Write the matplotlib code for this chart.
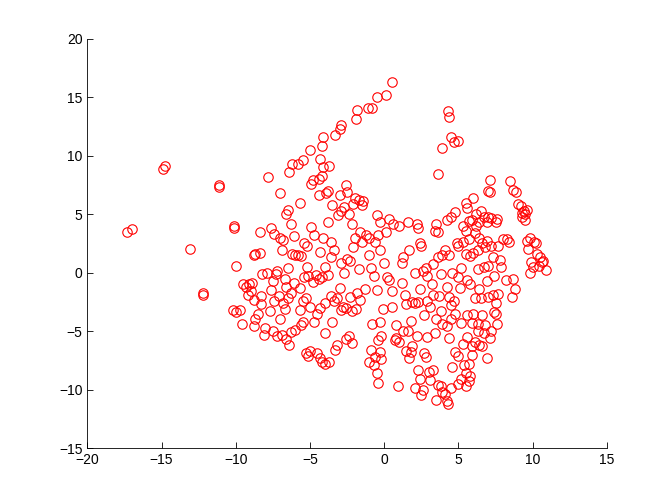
import matplotlib.pyplot as plt
import numpy as np

# scatter points, (x, y)
points = [
    (-17.3, 3.5), (-17.0, 3.7), (-14.9, 8.9), (-14.8, 9.1), (-13.1, 2.0),
    (-12.2, -1.7), (-12.2, -1.9), (-11.1, 7.3), (-11.1, 7.5),
    # -10 .. -8
    (-10.1, 3.8), (-10.1, 4.0), (-10.0, 0.6), (-10.2, -3.2), (-10.0, -3.4), (-9.7, -3.2),
    (-9.6, -4.4), (-9.5, -1.0), (-9.3, -1.2), (-9.1, -1.0), (-9.0, -1.6), (-9.2, -1.9),
    (-8.8, 1.5), (-8.7, 1.6), (-8.9, -0.9), (-8.8, -2.3), (-8.5, -3.5), (-8.8, -4.6),
    (-8.7, -4.0), (-8.4, 1.7), (-8.4, 3.5), (-8.2, -0.1), (-8.3, -2.0), (-8.0, -4.7),
    (-8.1, -5.3), (-8.3, -2.7),
    # -8 .. -6
    (-7.8, 8.2), (-7.6, 3.8), (-7.4, 3.3), (-7.3, -0.1), (-7.5, -0.7), (-7.2, 0.1),
    (-7.6, -1.5), (-7.7, -3.3), (-7.5, -5.0), (-7.2, -5.4), (-7.4, -2.4), (-7.1, -2.0),
    (-7.0, 6.8), (-7.0, 3.0), (-6.8, 2.8), (-6.9, 1.9), (-6.6, 5.0), (-6.5, 5.4),
    (-6.7, -0.5), (-6.6, -1.2), (-6.8, -2.6), (-6.5, -2.2), (-6.7, -3.1), (-6.9, -5.3),
    (-6.6, -5.7), (-6.4, -6.2), (-6.3, -5.1), (-6.4, 8.6), (-6.2, 9.3), (-6.3, 4.2),
    (-6.1, 3.1), (-6.2, 1.6), (-6.0, 1.5), (-6.1, -0.9), (-6.3, -1.7), (-6.0, -4.9),
    (-6.5, 0.4), (-7.9, 0.0), (-7.0, -4.0),
    # -6 .. -4
    (-5.8, 9.3), (-5.5, 9.6), (-5.7, 6.0), (-5.8, 1.5), (-5.6, 1.4), (-5.7, -1.3),
    (-5.5, -2.4), (-5.7, -3.2), (-5.5, -4.2), (-5.6, -4.5), (-5.3, -2.2), (-5.4, 2.5),
    (-5.2, 2.3), (-5.2, 0.5), (-5.1, -0.3), (-5.3, -6.9), (-5.1, -7.1), (-5.0, -6.7),
    (-5.0, 10.5), (-4.9, 7.6), (-4.8, 7.9), (-4.9, 3.9), (-4.7, 3.2), (-4.8, -0.8),
    (-4.6, -0.2), (-4.5, -3.5), (-4.7, -4.2), (-4.5, -6.9), (-4.3, -7.3), (-4.4, 8.0),
    (-4.2, 8.3), (-4.1, 9.0), (-4.1, 11.6), (-4.2, 10.8), (-4.3, 9.7), (-4.4, 6.6),
    (-4.1, 3.0), (-4.3, 1.8), (-4.0, 0.5), (-4.2, -0.4), (-4.0, -2.6), (-4.3, -3.0),
    (-4.0, -5.2), (-4.2, -7.6), (-4.0, -7.8), (-5.4, -0.4), (-4.4, -0.5), (-5.0, -2.9),
    # -4 .. -2
    (-3.8, 7.0), (-3.7, 9.1), (-3.9, 6.8), (-3.5, 5.8), (-3.8, 4.3), (-3.6, 2.6),
    (-3.4, 1.9), (-3.6, 1.3), (-3.8, -0.2), (-3.6, -2.0), (-3.4, -2.4), (-3.5, -4.2),
    (-3.2, -6.2), (-3.3, -6.6), (-3.7, -7.6), (-3.3, 11.8), (-3.0, 12.3), (-2.9, 12.6),
    (-3.0, 6.6), (-2.9, 5.3), (-2.6, 7.5), (-2.5, 6.9), (-2.7, 5.6), (-2.4, 5.0),
    (-3.1, 4.9), (-2.9, 0.8), (-2.5, 1.2), (-2.7, 0.0), (-3.0, -1.3), (-2.8, -2.9),
    (-2.6, -3.0), (-2.3, -2.1), (-2.2, -3.3), (-2.4, -5.4), (-2.2, -6.0), (-2.6, -5.7),
    (-2.0, 6.4), (-2.1, 5.9), (-2.2, 4.2), (-2.0, 3.0), (-2.1, 2.2), (-2.3, 1.0),
    (-3.2, -2.2), (-2.9, -3.2),
    # -2 .. 0
    (-1.9, 13.1), (-1.8, 13.9), (-1.7, 6.2), (-1.5, 5.8), (-1.4, 6.1), (-1.6, 3.5),
    (-1.5, 2.6), (-1.7, 0.3), (-1.8, -1.7), (-1.6, -2.3), (-1.9, -3.1), (-1.3, -1.4),
    (-1.2, 3.2), (-1.0, 3.0), (-1.1, 14.1), (-0.8, 14.1), (-1.0, 1.5), (-0.9, 0.4),
    (-0.7, -0.3), (-0.8, -4.4), (-0.9, -6.6), (-1.0, -7.6), (-0.7, -7.9), (-0.6, -7.2),
    (-0.5, 15.0), (-0.5, 4.9), (-0.3, 4.3), (-0.4, 3.2), (-0.6, 2.6), (-0.3, 1.9),
    (-0.5, -1.5), (-0.3, -4.2), (-0.2, -5.4), (-0.4, -5.8), (-0.3, -6.8), (-0.5, -8.6),
    (-0.2, -7.4), (-0.4, -9.4), (-0.1, -3.1),
    # 0 .. 2
    (0.1, 15.2), (0.5, 16.3), (0.0, 0.8), (0.2, -0.4), (0.3, -0.6), (0.1, 3.5),
    (0.3, 4.6), (0.6, 4.2), (0.5, -1.6), (0.5, -2.9), (0.8, -4.5), (0.8, -5.6),
    (1.0, -5.9), (0.7, -5.8), (0.9, -9.7), (1.0, 4.0), (1.2, 0.8), (1.3, 1.3),
    (1.2, -0.9), (1.4, -1.9), (1.5, -2.7), (1.3, -5.0), (1.6, 4.3), (1.7, 1.9),
    (1.5, -6.7), (1.8, -6.8), (1.7, -7.3), (1.9, -6.3), (1.9, -2.5), (1.6, -5.0),
    (1.8, -4.1),
    # 2 .. 4
    (2.2, 4.2), (2.3, 3.8), (2.1, 0.0), (2.4, -1.4), (2.1, -2.6), (2.3, -2.5),
    (2.5, 2.3), (2.4, 2.5), (2.2, -5.4), (2.3, -8.3), (2.4, -9.1), (2.1, -9.9),
    (2.5, -10.5), (2.6, -10.0), (2.8, -7.2), (2.7, -6.9), (2.6, 0.1), (2.8, 0.4),
    (2.9, -0.3), (2.9, -2.4), (2.7, -3.6), (2.9, -5.5), (3.0, -8.5), (3.1, -9.2),
    (3.3, 0.7), (3.2, -1.0), (3.3, -1.9), (3.1, -2.9), (3.4, -5.2), (3.5, -4.0),
    (3.3, -8.3), (3.5, 4.2), (3.4, 3.6), (3.6, 3.5), (3.6, 8.4), (3.8, -0.1),
    (3.7, -2.0), (3.8, -3.3), (3.6, -9.6), (3.8, -9.7), (3.9, -10.2), (3.9, 10.7),
    (3.9, 1.5), (3.6, 1.3), (3.9, -4.4), (3.5, -10.9),
    # 4 .. 6
    (4.3, 13.8), (4.4, 13.3), (4.5, 11.6), (4.7, 11.2), (5.0, 11.3), (4.2, 4.5),
    (4.5, 4.8), (4.1, 1.9), (4.4, 1.5), (4.6, 0.0), (4.2, -1.2), (4.4, -2.1),
    (4.5, -2.8), (4.2, -4.6), (4.5, -4.0), (4.4, -5.6), (4.6, -8.1), (4.1, -10.4),
    (4.2, -11.0), (4.3, -11.2), (4.5, -9.9), (4.8, 5.2), (4.9, 2.5), (5.0, 2.3),
    (5.1, -1.3), (4.8, -3.5), (5.2, -4.3), (5.3, -6.1), (5.4, -7.9), (5.0, -9.5),
    (5.2, -9.1), (5.5, 6.0), (5.6, 5.5), (5.3, 4.0), (5.7, 4.4), (5.9, 4.5),
    (5.5, 3.6), (5.7, 2.9), (5.5, 1.6), (5.8, 1.4), (5.6, -0.6), (5.8, -1.0),
    (5.6, -3.6), (5.9, -4.3), (5.6, -5.5), (5.9, -6.3), (5.7, -7.8), (5.5, -8.6),
    (5.8, -8.8), (5.3, 2.6), (5.2, 0.4), (5.0, -0.4), (4.8, -6.8), (5.0, -7.1),
    (5.5, -9.7), (5.7, -9.3), (5.9, -7.0), (4.7, -2.4),
    # 6 .. 8
    (6.0, 6.4), (6.2, 5.0), (6.1, 3.4), (6.4, 3.0), (6.3, 1.9), (6.0, 1.7),
    (6.3, 0.3), (6.1, -2.2), (6.4, -1.4), (6.0, -3.5), (6.3, -5.0), (6.1, -5.9),
    (6.4, -6.2), (6.5, 5.3), (6.7, 4.8), (6.6, 2.5), (6.8, 2.2), (6.7, 0.5),
    (6.9, -0.7), (6.5, -2.2), (6.6, -3.6), (6.8, -4.5), (6.7, -5.2), (6.6, -6.3),
    (6.9, -7.3), (6.9, 4.3), (7.0, 7.0), (7.1, 6.9), (7.1, 7.9), (7.0, 4.8),
    (7.2, 4.7), (7.2, 2.3), (7.3, 1.3), (7.0, 0.6), (7.4, -0.3), (7.3, -1.9),
    (7.0, -2.1), (7.4, -3.4), (7.5, -3.5), (7.6, -4.4), (7.2, -5.0), (7.5, 4.3),
    (7.6, 4.6), (7.7, 2.3), (7.8, 1.1), (7.9, 0.5), (7.7, -1.8), (7.5, -2.6),
    (8.0, 2.9), (6.2, 4.0), (6.4, 4.3), (6.9, 2.7), (6.3, -4.4), (7.1, -5.6),
    # 8 .. 11
    (8.3, 2.9), (8.4, 2.6), (8.5, 7.8), (8.7, 7.1), (8.9, 6.9), (8.7, -0.5),
    (8.8, -1.4), (8.6, -2.1), (9.0, 5.9), (9.2, 5.7), (9.3, 5.1), (9.3, 4.8),
    (9.4, 5.3), (9.5, 5.0), (9.5, 4.5), (9.6, 5.4), (9.6, 2.7), (9.7, 2.0),
    (9.8, 3.0), (9.8, 0.0), (9.9, 0.9), (10.1, 2.6), (10.2, 2.5), (10.3, 1.6),
    (10.5, 1.3), (10.4, 0.6), (10.6, 0.9), (10.9, 0.2), (10.7, 1.0), (10.0, 0.5),
    (8.2, -0.6),
]
x = np.array([p[0] for p in points])
y = np.array([p[1] for p in points])

plt.rcParams['font.family'] = ['Liberation Sans', 'DejaVu Sans']

fig = plt.figure(figsize=(6.72, 5.04), dpi=100)
ax = fig.add_axes([0.13, 0.111, 0.773, 0.812])
ax.plot(x, y, 'o', mfc='none', mec='#ff0000', ms=6.8, mew=0.8)

ax.set_xlim(-20, 15)
ax.set_ylim(-15, 20)
ax.set_xticks(np.arange(-20, 16, 5))
ax.set_yticks(np.arange(-15, 21, 5))
ax.tick_params(direction='in', length=4, width=0.6, labelsize=10)
ax.spines['top'].set_visible(False)
ax.spines['right'].set_visible(False)
ax.spines['left'].set_linewidth(0.6)
ax.spines['bottom'].set_linewidth(0.6)

fig.savefig('out.png', dpi=100)
